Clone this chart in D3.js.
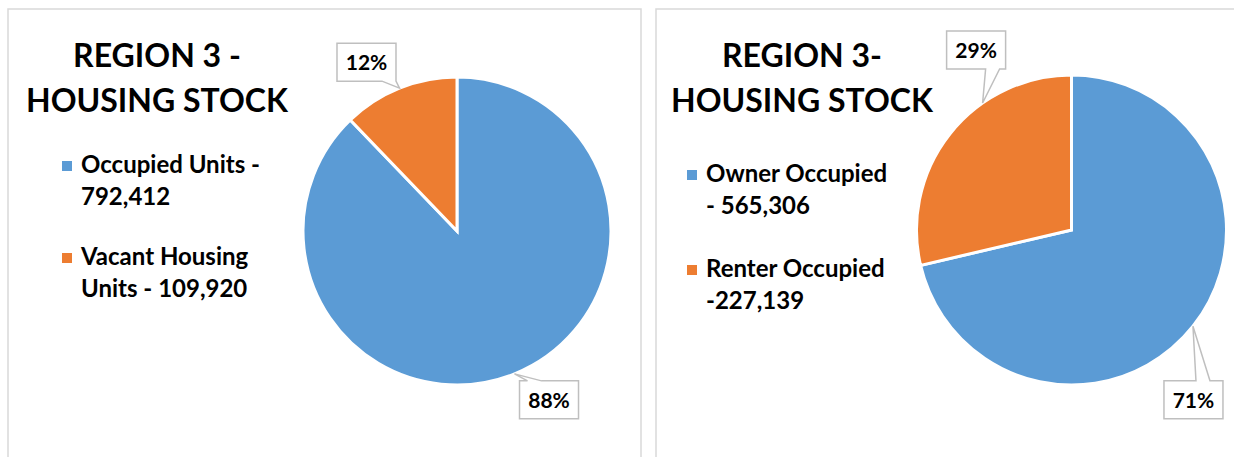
<!DOCTYPE html>
<html lang="en">

<head>
    <meta charset="UTF-8">
    <title>Region 3 housing stock</title>
    <script src="https://d3js.org/d3.v7.min.js"></script>
    <style>
        body,
        html {
            margin: 0px;
            background: white;
        }

        text {
            font-family: Lato, "Open Sans", sans-serif;
            font-weight: bold;
            fill: #000;
        }
    </style>
</head>

<body>
    <div id="chart"></div>

    <script>
        // data
        var stockCategories = ["Occupied Units", "Vacant Housing Units"];
        var stockValues = [792412, 109920];
        var stockLegend = [["Occupied Units -", "792,412"], ["Vacant Housing", "Units - 109,920"]];
        var stockTitle = ["REGION 3 -", "HOUSING STOCK"];

        var tenureCategories = ["Owner Occupied", "Renter Occupied"];
        var tenureValues = [565306, 227139];
        var tenureLegend = [["Owner Occupied", "- 565,306"], ["Renter Occupied", "-227,139"]];
        var tenureTitle = ["REGION 3-", "HOUSING STOCK"];

        var colors = ["#5b9bd5", "#ed7d31"];

        var width = 1234, height = 457;

        var svg = d3.select("#chart")
            .append("svg")
            .attr("width", width)
            .attr("height", height);

        var pct = d3.format(".0%");

        function drawPanel(cfg) {
            var g = svg.append("g").attr("class", "panel");

            // frame
            g.append("rect")
                .attr("x", cfg.x)
                .attr("y", cfg.y)
                .attr("width", cfg.w)
                .attr("height", cfg.h)
                .attr("fill", "white")
                .attr("stroke", "#d9d9d9")
                .attr("stroke-width", 1.5);

            // title
            g.selectAll(".title")
                .data(cfg.title)
                .enter().append("text")
                .attr("class", "title")
                .attr("x", cfg.titleX)
                .attr("y", (d, i) => 67 + i * 45)
                .attr("text-anchor", "middle")
                .style("font-size", "32px")
                .text(d => d);

            // legend
            var color = d3.scaleOrdinal().domain(cfg.categories).range(colors);
            var leg = g.selectAll(".legend")
                .data(cfg.categories)
                .enter().append("g")
                .attr("class", "legend")
                .attr("transform", (d, i) => "translate(" + cfg.legendX + "," + (cfg.legendY + i * cfg.legendGap) + ")");

            leg.append("rect")
                .attr("x", 0)
                .attr("y", -12)
                .attr("width", 10)
                .attr("height", 10)
                .attr("fill", d => color(d));

            leg.selectAll("text")
                .data((d, i) => cfg.legend[i])
                .enter().append("text")
                .attr("x", 19)
                .attr("y", (d, j) => j * 32)
                .style("font-size", "24px")
                .text(d => d);

            // pie
            var pie = d3.pie().sort(null).value(d => d.value);
            var arcs = pie(cfg.categories.map((c, i) => ({ name: c, value: cfg.values[i] })));
            var total = d3.sum(cfg.values);
            var arc = d3.arc().innerRadius(0).outerRadius(cfg.r);

            var pg = g.append("g")
                .attr("transform", "translate(" + cfg.cx + "," + cfg.cy + ")");

            pg.selectAll("path.slice")
                .data(arcs)
                .enter().append("path")
                .attr("class", "slice")
                .attr("d", arc)
                .attr("fill", d => color(d.data.name))
                .attr("stroke", "white")
                .attr("stroke-width", 3);

            // data labels with callout boxes
            var bw = 59, bh = 38;
            arcs.forEach((a, i) => {
                var ang = (a.startAngle + a.endAngle) / 2 + (cfg.tipShift[i] || 0) * Math.PI / 180;
                var tx = Math.sin(ang) * cfg.r, ty = -Math.cos(ang) * cfg.r;
                var bx = tx + cfg.labelOff[i][0], by = ty + cfg.labelOff[i][1];
                var l = bx - bw / 2, r = bx + bw / 2, t = by - bh / 2, b = by + bh / 2;
                var b0 = Math.max(l + 8, Math.min(r - 14, tx + 3)), b1 = b0 + 14;
                var p;
                if (ty > b) {
                    // tail on bottom edge
                    p = [[l, t], [r, t], [r, b], [b1, b], [tx, ty], [b0, b], [l, b]];
                } else {
                    // tail on top edge
                    p = [[l, t], [b0, t], [tx, ty], [b1, t], [r, t], [r, b], [l, b]];
                }
                pg.append("path")
                    .attr("d", d3.line()(p) + "Z")
                    .attr("fill", "white")
                    .attr("stroke", "#bfbfbf")
                    .attr("stroke-width", 1.5);
                pg.append("text")
                    .attr("x", bx)
                    .attr("y", by + 8)
                    .attr("text-anchor", "middle")
                    .style("font-size", "21px")
                    .text(pct(a.data.value / total));
            });
        }

        drawPanel({
            x: 8, y: 9, w: 633, h: 470,
            title: stockTitle, titleX: 157,
            categories: stockCategories, values: stockValues, legend: stockLegend,
            legendX: 62, legendY: 173, legendGap: 92,
            cx: 457, cy: 231, r: 154,
            tipShift: [0, 0],
            labelOff: [[34.5, 26], [-33, -26]]
        });

        drawPanel({
            x: 656, y: 9, w: 600, h: 470,
            title: tenureTitle, titleX: 802,
            categories: tenureCategories, values: tenureValues, legend: tenureLegend,
            legendX: 687, legendY: 182, legendGap: 95,
            cx: 1071.5, cy: 230, r: 155,
            tipShift: [0, 16.6],
            labelOff: [[0.5, 73.5], [-6.5, -53]]
        });
    </script>
</body>

</html>
